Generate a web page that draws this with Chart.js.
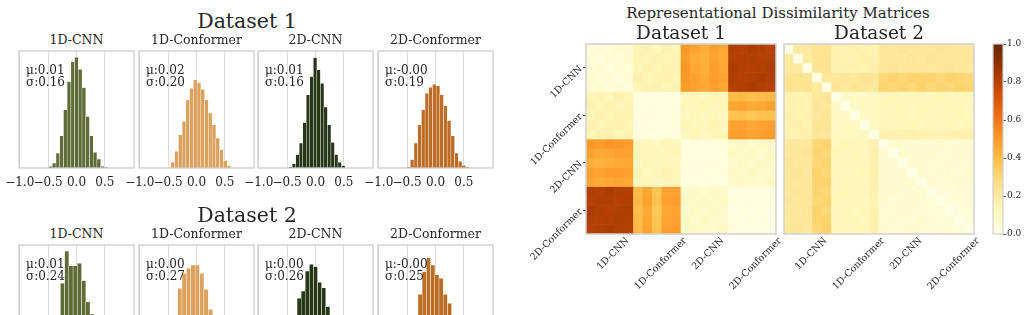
<!DOCTYPE html>
<html>
<head>
<meta charset="utf-8">
<script src="https://cdn.jsdelivr.net/npm/chart.js@4.4.1/dist/chart.umd.min.js"></script>
<style>
  html, body { margin: 0; padding: 0; background: #fff; }
  body { width: 1027px; height: 315px; position: relative; overflow: hidden;
         font-family: 'DejaVu Serif', serif; color: #262626; }
  canvas { position: absolute; }
  .lbl { position: absolute; line-height: 1; white-space: pre; }
</style>
</head>
<body>
<script>
// ---- data ----
const models = ["1D-CNN", "1D-Conformer", "2D-CNN", "2D-Conformer"];
const histTicks = [-1.0, -0.5, 0.0, 0.5];

const ds1Mu = ["0.01", "0.02", "0.01", "-0.00"];
const ds1Sigma = ["0.16", "0.20", "0.16", "0.19"];
const ds2Mu = ["0.01", "0.00", "0.00", "-0.00"];
const ds2Sigma = ["0.24", "0.27", "0.26", "0.25"];

// bin centres and bar heights (percent of panel height)
const ds1Bins = [
  [-0.459, -0.394, -0.328, -0.263, -0.197, -0.132, -0.066, -0.001, 0.065, 0.130, 0.196, 0.262, 0.327, 0.393, 0.458, 0.524],
  [-0.418, -0.352, -0.286, -0.220, -0.154, -0.088, -0.022, 0.044, 0.110, 0.176, 0.242, 0.308, 0.374, 0.440, 0.506, 0.572],
  [-0.441, -0.379, -0.317, -0.255, -0.193, -0.131, -0.069, -0.007, 0.055, 0.117, 0.179, 0.241, 0.303, 0.365, 0.427, 0.489],
  [-0.476, -0.411, -0.346, -0.281, -0.216, -0.151, -0.086, -0.021, 0.044, 0.109, 0.174, 0.239, 0.304, 0.369, 0.434, 0.499, 0.564]
];
const ds1Counts = [
  [1.4, 4.3, 12.8, 27.6, 49.7, 73.9, 90.9, 94.6, 84.4, 68.8, 44.0, 27.6, 13.4, 7.7, 1.4, 0.6],
  [5.1, 14.2, 28.4, 39.8, 58.2, 68.2, 75.3, 73.0, 67.3, 58.2, 46.9, 36.9, 25.6, 15.6, 6.3, 2.0],
  [0.9, 3.7, 11.4, 21.3, 38.9, 62.5, 78.1, 94.3, 83.8, 72.4, 52.0, 36.9, 21.9, 11.4, 4.8, 2.0],
  [0.9, 7.1, 21.3, 36.9, 49.7, 63.9, 69.0, 71.6, 70.2, 62.5, 53.1, 40.6, 27.6, 12.8, 5.7, 2.3, 0.9]
];
const ds2Bins = [
  [-0.546, -0.471, -0.396, -0.322, -0.247, -0.172, -0.098, -0.023, 0.052, 0.127, 0.201, 0.276, 0.351, 0.426, 0.500, 0.575],
  [-0.603, -0.526, -0.449, -0.371, -0.294, -0.217, -0.140, -0.062, 0.015, 0.092, 0.170, 0.247, 0.324, 0.402, 0.479, 0.556],
  [-0.577, -0.505, -0.433, -0.360, -0.288, -0.216, -0.144, -0.072, 0.000, 0.072, 0.144, 0.217, 0.289, 0.361, 0.433, 0.505],
  [-0.567, -0.493, -0.419, -0.345, -0.271, -0.197, -0.123, -0.049, 0.025, 0.099, 0.173, 0.247, 0.321, 0.395, 0.469, 0.543]
];
const ds2Counts = [
  [3, 9, 20, 36, 67.3, 94.9, 82.1, 82.3, 84.4, 69.5, 51.5, 41.0, 26, 14, 6, 2],
  [2, 6, 14, 30, 63.0, 75.8, 80.1, 82.9, 82.9, 75.8, 62.1, 45.0, 30, 16, 7, 2],
  [2, 6, 15, 32, 54.4, 60.7, 77.8, 83.5, 81.5, 68.1, 63.5, 47.3, 30, 16, 7, 2],
  [2, 7, 16, 34, 57.9, 77.2, 89.1, 82.9, 74.4, 71.5, 57.9, 50.2, 32, 18, 8, 2]
];

// RDMs: upper triangle rows (row i lists columns i..19), values in percent
const rdm1 = [
  [3,5,4,6,5, 14,15,13,16,14, 50,47,44,48,46, 82,81,83,82,81],
  [3,5,4,6, 15,14,16,14,15, 49,45,43,47,45, 81,82,82,81,82],
  [3,5,4, 13,16,14,15,16, 51,46,44,49,46, 83,82,81,82,83],
  [3,5, 16,14,15,16,14, 50,48,45,49,47, 82,81,82,83,82],
  [3, 14,15,16,14,15, 49,47,46,48,46, 81,82,83,82,81],
  [2,3,2,3,2, 12,13,11,14,12, 40,41,39,40,41],
  [2,3,2,3, 13,12,14,12,13, 46,47,45,46,47],
  [2,2,3, 11,13,12,13,11, 37,38,36,37,38],
  [2,3, 14,12,13,15,12, 47,48,46,47,48],
  [2, 12,14,12,13,14, 48,49,47,48,49],
  [2,3,2,3,2, 8,9,7,9,8],
  [2,3,2,3, 9,8,9,7,9],
  [2,3,2, 7,9,8,9,8],
  [2,3, 9,8,9,8,7],
  [2, 8,9,8,7,9],
  [1,2,1,2,1],
  [1,2,1,2],
  [1,2,1],
  [1,2],
  [1]
];
const rdm2 = [
  [0,20,21,24,25, 16,15,17,16,15, 22,21,23,22,21, 22,23,22,21,22],
  [0,20,25,24, 15,16,15,17,16, 21,22,21,23,22, 23,22,21,22,23],
  [0,24,25, 16,15,16,15,17, 22,23,22,21,22, 21,22,23,22,21],
  [0,22, 22,23,22,24,23, 30,31,30,32,31, 31,30,32,31,30],
  [0, 23,22,24,23,22, 31,30,31,30,32, 30,31,30,32,31],
  [0,9,10,9,11, 12,13,12,13,12, 12,13,12,12,13],
  [0,9,10,11, 13,12,13,12,13, 13,12,13,13,12],
  [0,10,11, 12,13,13,12,13, 12,13,12,13,12],
  [0,11, 13,12,13,13,12, 13,12,13,12,13],
  [0, 16,17,16,17,16, 16,15,16,17,16],
  [0,6,7,6,6, 5,6,5,5,6],
  [0,6,7,6, 6,5,5,6,5],
  [0,6,7, 5,5,6,5,5],
  [0,6, 5,6,5,5,6],
  [0, 6,5,5,6,5],
  [0,4,4,5,4],
  [0,4,4,5],
  [0,4,4],
  [0,4],
  [0]
];
const rdmTicks = [2.5, 7.5, 12.5, 17.5];
const cbarTicks = [0.0, 0.2, 0.4, 0.6, 0.8, 1.0];

// ---- style ----
const barColors = ["#606c38", "#dda15e", "#283618", "#bc6c25"];
const ylorbr = ["#ffffe5", "#fff7bc", "#fee391", "#fec44f", "#fe9929", "#ec7014", "#cc4c02", "#993404", "#662506"];
const ink = "#262626";
const frameColor = "#cccccc";
const gridColor = "#dcdcdc";
const serif = "'DejaVu Serif', serif";

Chart.defaults.font.family = serif;
Chart.defaults.color = ink;

function hexRgb(h) {
  return [1, 3, 5].map(i => parseInt(h.slice(i, i + 2), 16));
}
function cmap(t) {
  t = Math.min(1, Math.max(0, t));
  const s = t * (ylorbr.length - 1);
  const i = Math.min(Math.floor(s), ylorbr.length - 2);
  const f = s - i;
  const a = hexRgb(ylorbr[i]), b = hexRgb(ylorbr[i + 1]);
  const c = a.map((v, k) => Math.round(v + (b[k] - v) * f));
  return `rgb(${c[0]},${c[1]},${c[2]})`;
}

function addText(txt, x, y, size, align) {
  const d = document.createElement("div");
  d.className = "lbl";
  d.textContent = txt;
  d.style.left = x + "px";
  d.style.top = y + "px";
  d.style.fontSize = size + "px";
  d.style.transform = align === "left" ? "translate(0,-50%)" : "translate(-50%,-50%)";
  document.body.appendChild(d);
}

function addCanvas(x, y, w, h) {
  const c = document.createElement("canvas");
  c.width = w;
  c.height = h;
  c.style.left = x + "px";
  c.style.top = y + "px";
  c.style.width = w + "px";
  c.style.height = h + "px";
  document.body.appendChild(c);
  return c;
}

const framePlugin = {
  id: "frame",
  afterDatasetsDraw(chart, args, opts) {
    const a = chart.chartArea;
    const ctx = chart.ctx;
    ctx.save();
    ctx.strokeStyle = opts.color;
    ctx.lineWidth = opts.width;
    ctx.strokeRect(a.left, a.top, a.right - a.left, a.bottom - a.top);
    ctx.restore();
  }
};

// rotated x labels centred under the ticks, like matplotlib
const rotLabelPlugin = {
  id: "rotLabels",
  afterDraw(chart) {
    const sx = chart.scales.x;
    const ctx = chart.ctx;
    ctx.save();
    ctx.font = "9.5px " + serif;
    ctx.fillStyle = ink;
    ctx.textAlign = "right";
    ctx.textBaseline = "top";
    rdmTicks.forEach((v, i) => {
      const txt = models[i];
      const w = ctx.measureText(txt).width;
      ctx.save();
      ctx.translate(sx.getPixelForValue(v) + w * 0.354, chart.chartArea.bottom + 2);
      ctx.rotate(-Math.PI / 4);
      ctx.fillText(txt, 0, 0);
      ctx.restore();
    });
    ctx.restore();
  }
};

const baseOpts = {
  responsive: false,
  animation: false,
  devicePixelRatio: 1,
  events: []
};

// ---- histograms ----
function drawHist(bins, counts, color, left, top) {
  const c = addCanvas(left - 22, top - 4, 159, 151);
  new Chart(c, {
    type: "bar",
    data: {
      datasets: [{
        data: bins.map((b, i) => ({ x: b, y: counts[i] })),
        backgroundColor: color,
        borderColor: "#ffffff",
        borderWidth: 0.5,
        barPercentage: 1,
        categoryPercentage: 1
      }]
    },
    options: {
      ...baseOpts,
      layout: { padding: { left: 22, right: 22, top: 4, bottom: 0 } },
      plugins: {
        legend: { display: false },
        tooltip: { enabled: false },
        frame: { color: frameColor, width: 1.3 }
      },
      scales: {
        x: {
          type: "linear", min: -1.013, max: 1.013, offset: false,
          afterBuildTicks: s => { s.ticks = histTicks.map(v => ({ value: v })); },
          afterFit: s => { s.height = 30; },
          grid: { color: gridColor, drawTicks: false, offset: false },
          border: { display: false },
          ticks: {
            autoSkip: false, maxRotation: 0, minRotation: 0, padding: 8,
            font: { size: 12 }, color: ink,
            callback: v => (v < 0 ? "\u2212" : "") + Math.abs(v).toFixed(1)
          }
        },
        y: { display: false, min: 0, max: 100 }
      }
    },
    plugins: [framePlugin]
  });
}

const panelLeft = [19, 139, 258, 378];
const rowTop = [51, 245];
const rows = [
  { title: "Dataset 1", bins: ds1Bins, counts: ds1Counts, mu: ds1Mu, sigma: ds1Sigma },
  { title: "Dataset 2", bins: ds2Bins, counts: ds2Counts, mu: ds2Mu, sigma: ds2Sigma }
];

rows.forEach((r, ri) => {
  const T = rowTop[ri];
  addText(r.title, 247, T - 30.5, 20.5);
  models.forEach((m, k) => {
    const L = panelLeft[k];
    drawHist(r.bins[k], r.counts[k], barColors[k], L, T);
    addText(m, L + 57.5, T - 11, 12.5);
    addText("\u03bc:" + r.mu[k], L + 7, T + 18.5, 12, "left");
    addText("\u03c3:" + r.sigma[k], L + 7, T + 31.3, 12, "left");
  });
});

// ---- RDM heatmaps ----
function fullMatrix(upper) {
  const n = upper.length;
  const m = [];
  for (let i = 0; i < n; i++) {
    const row = [];
    for (let j = 0; j < n; j++) row.push(j >= i ? upper[i][j - i] : upper[j][i - j]);
    m.push(row);
  }
  return m;
}

function drawRdm(upper, left, width, padLeft, showY) {
  const m = fullMatrix(upper);
  const n = m.length;
  const datasets = m.map(row => ({
    data: row.map((v, j) => ({ x: j + 0.5, y: 1 })),
    backgroundColor: row.map(v => cmap(v / 100)),
    borderWidth: 0,
    barPercentage: 1,
    categoryPercentage: 1
  }));
  const c = addCanvas(left, 36, width, 268);
  new Chart(c, {
    type: "bar",
    data: { datasets },
    options: {
      ...baseOpts,
      layout: { padding: { left: padLeft, right: 6, top: 8, bottom: 70 } },
      plugins: {
        legend: { display: false },
        tooltip: { enabled: false },
        frame: { color: "#d0d0d0", width: 1.5 }
      },
      scales: {
        x: { type: "linear", display: false, min: 0, max: n, stacked: true, offset: false },
        y: {
          type: "linear", display: showY, min: 0, max: n, reverse: true, stacked: true,
          afterBuildTicks: s => { s.ticks = rdmTicks.map(v => ({ value: v })); },
          afterFit: s => { s.width = showY ? 60 : 0; },
          grid: { drawOnChartArea: false, drawTicks: true, tickLength: 3, tickColor: ink, lineWidth: 0.8 },
          border: { display: false },
          ticks: {
            autoSkip: false, minRotation: 45, maxRotation: 45, padding: 2,
            font: { size: 9.5 }, color: ink,
            callback: (v, i) => models[i]
          }
        }
      }
    },
    plugins: [framePlugin, rotLabelPlugin]
  });
}

drawRdm(rdm1, 526, 256, 0, true);
drawRdm(rdm2, 780, 200, 4, false);

addText("Representational Dissimilarity Matrices", 778, 13, 15);
addText("Dataset 1", 681, 33, 18.5);
addText("Dataset 2", 879, 33, 18.5);

// ---- colour bar ----
const cb = addCanvas(985, 36, 42, 208);
new Chart(cb, {
  type: "bar",
  data: {
    labels: [""],
    datasets: [{
      data: [[0, 1]],
      backgroundColor: ctx => {
        const a = ctx.chart.chartArea;
        if (!a) return ylorbr[0];
        const g = ctx.chart.ctx.createLinearGradient(0, a.bottom, 0, a.top);
        ylorbr.forEach((col, i) => g.addColorStop(i / (ylorbr.length - 1), col));
        return g;
      },
      borderWidth: 0,
      barPercentage: 1,
      categoryPercentage: 1
    }]
  },
  options: {
    ...baseOpts,
    layout: { padding: { left: 8, right: 0, top: 8, bottom: 10 } },
    plugins: {
      legend: { display: false },
      tooltip: { enabled: false },
      frame: { color: "#d0d0d0", width: 1.2 }
    },
    scales: {
      x: { display: false },
      y: {
        position: "right", min: 0, max: 1,
        afterBuildTicks: s => { s.ticks = cbarTicks.map(v => ({ value: v })); },
        afterFit: s => { s.width = 24; },
        grid: { drawOnChartArea: false, drawTicks: true, tickLength: 3, tickColor: ink, lineWidth: 0.8 },
        border: { display: false },
        ticks: { padding: 1, font: { size: 9 }, color: ink, callback: v => v.toFixed(1) }
      }
    }
  },
  plugins: [framePlugin]
});
</script>
</body>
</html>
